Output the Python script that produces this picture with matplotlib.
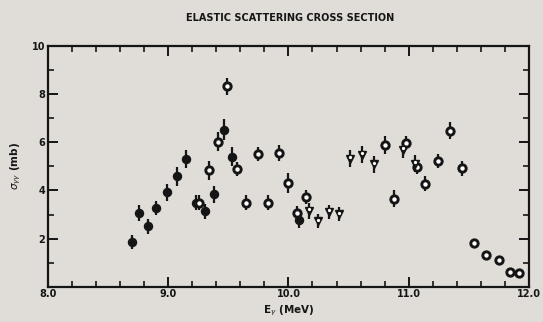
import numpy as np
import matplotlib
matplotlib.use("Agg")
import matplotlib.pyplot as plt

# energies (MeV), cross sections (mb), errors, marker kind
energy = [8.70, 8.76, 8.83, 8.90, 8.99, 9.07, 9.15, 9.23, 9.26, 9.31,
          9.34, 9.38, 9.41, 9.46, 9.49, 9.53, 9.57, 9.645, 9.75, 9.83,
          9.92, 10.00, 10.07, 10.09, 10.146, 10.17, 10.25, 10.335, 10.42, 10.51,
          10.61, 10.71, 10.80, 10.876, 10.956, 10.98, 11.05, 11.07, 11.14, 11.24,
          11.34, 11.44, 11.54, 11.64, 11.75, 11.84, 11.92]
sigma = [1.86, 3.06, 2.51, 3.27, 3.93, 4.58, 5.32, 3.49, 3.49, 3.13,
         4.83, 3.84, 6.03, 6.53, 8.32, 5.41, 4.90, 3.49, 5.52, 3.49,
         5.56, 4.31, 3.06, 2.76, 3.73, 3.15, 2.72, 3.11, 3.01, 5.32,
         5.48, 5.08, 5.90, 3.66, 5.69, 5.96, 5.11, 4.97, 4.28, 5.22,
         6.49, 4.92, 1.80, 1.31, 1.10, 0.60, 0.55]
err = [0.30, 0.32, 0.30, 0.30, 0.35, 0.38, 0.38, 0.30, 0.30, 0.32,
       0.38, 0.35, 0.38, 0.45, 0.35, 0.40, 0.30, 0.30, 0.30, 0.30,
       0.32, 0.40, 0.30, 0.30, 0.30, 0.32, 0.30, 0.30, 0.30, 0.35,
       0.35, 0.35, 0.38, 0.35, 0.35, 0.30, 0.35, 0.30, 0.32, 0.30,
       0.35, 0.30, 0.0, 0.0, 0.0, 0.0, 0.0]
kind = ['f', 'f', 'f', 'f', 'f', 'f', 'f', 'f', 'o', 'f',
        'o', 'f', 'o', 'f', 'o', 'f', 'o', 'o', 'o', 'o',
        'o', 'o', 'o', 'f', 'o', 'v', 'v', 'v', 'v', 'v',
        'v', 'v', 'o', 'o', 'v', 'o', 'v', 'o', 'o', 'o',
        'o', 'o', 'o', 'o', 'o', 'o', 'o']

bg = '#e0ddd8'
ink = '#151515'

fig = plt.figure(figsize=(5.43, 3.22), dpi=100, facecolor=bg)
ax = fig.add_axes([0.0884, 0.1096, 0.8856, 0.7474])
ax.set_facecolor(bg)

energy = np.array(energy)
sigma = np.array(sigma)
err = np.array(err)
kind = np.array(kind)

ax.errorbar(energy, sigma, yerr=err, fmt='none', ecolor=ink, elinewidth=1.6, capsize=0, zorder=2)
styles = {
    'f': dict(marker='o', ms=5.8, mfc=ink, mec=ink, mew=1.0),
    'o': dict(marker='o', ms=5.3, mfc='white', mec=ink, mew=2.1),
    'v': dict(marker='v', ms=6.3, mfc=ink, mec=ink, mew=1.0),
}
for k, st in styles.items():
    m = kind == k
    ax.plot(energy[m], sigma[m], ls='none', zorder=3, **st)
# small white centre in the triangle marks
m = kind == 'v'
ax.plot(energy[m], sigma[m] + 0.06, ls='none', marker='o', ms=1.3, mfc='white', mec='white', zorder=4)

ax.set_xlim(8.0, 12.0)
ax.set_ylim(0, 10)
ax.set_xticks([8, 9, 10, 11, 12])
ax.set_xticklabels(['8.0', '9.0', '10.0', '11.0', '12.0'])
ax.set_xticks(np.arange(8.2, 12.0, 0.2), minor=True)
ax.set_yticks([2, 4, 6, 8, 10])
ax.set_yticks([1, 3, 5, 7, 9], minor=True)
ax.tick_params(which='both', direction='in', top=True, right=True, color=ink,
               labelcolor=ink, labelsize=7, pad=2)
ax.tick_params(which='major', length=7, width=1.4)
ax.tick_params(which='minor', length=4, width=1.2)
for lab in ax.get_xticklabels() + ax.get_yticklabels():
    lab.set_fontweight('bold')
for sp in ax.spines.values():
    sp.set_color(ink)
    sp.set_linewidth(1.6)

fig.text(0.535, 0.945, 'ELASTIC SCATTERING CROSS SECTION', ha='center', va='center',
         fontsize=7, fontweight='bold', color=ink)
ax.set_xlabel(r'E$_\gamma$ (MeV)', fontsize=7.5, fontweight='bold', color=ink, labelpad=3)
ax.set_ylabel(r'$\sigma_{\gamma\gamma}$ (mb)', fontsize=7.5, fontweight='bold', color=ink, labelpad=6)

fig.savefig('out.png', dpi=100, facecolor=bg)
